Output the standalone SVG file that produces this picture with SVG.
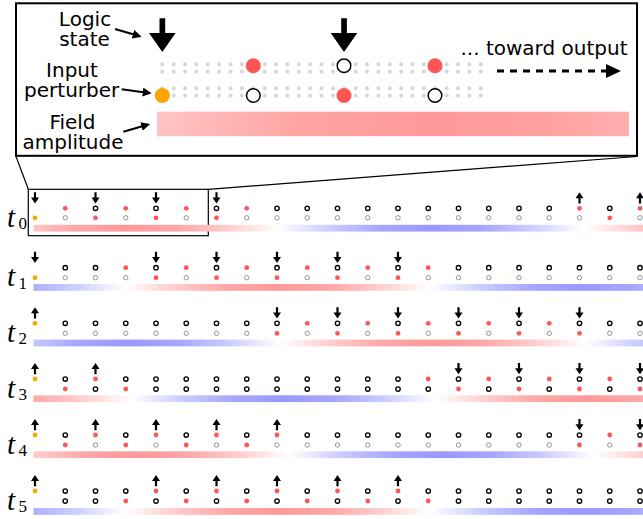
<svg xmlns="http://www.w3.org/2000/svg" width="643" height="519" viewBox="0 0 643 519">
<defs>
<style>
.lbl{font-family:"DejaVu Sans",sans-serif;font-size:20px;fill:#000;text-anchor:middle}
.tl{font-family:"Liberation Serif",serif;font-style:italic;font-size:29px;fill:#000}
.sub{font-style:normal;font-size:17px}
.r{fill:#f55;r:2.4px}
.k{fill:#fff;stroke:#000;stroke-width:1.35;r:2.2px}
.g{fill:#fff;stroke:#888;stroke-width:0.9;r:2.2px}
.o{fill:#ffa500;r:2.4px}
.R{fill:#f55;r:7.5px}
.K{fill:#fff;stroke:#000;stroke-width:1.5;r:6.8px}
.O{fill:#ffa500;r:7.6px}
.ln{stroke:#000;stroke-width:1.2;fill:none}
.la{stroke:#000;stroke-width:2;fill:none;marker-end:url(#ah)}
</style>
<marker id="ah" viewBox="0 0 10 10" refX="7" refY="5" markerWidth="4.5" markerHeight="4.5" orient="auto" markerUnits="strokeWidth">
<path d="M0,0L10,5L0,10z"/>
</marker>
<path id="dn" d="M-1.1,0H1.1V5.2H4L0,11.2L-4,5.2H-1.1Z"/>
<path id="up" d="M-1.1,11.2H1.1V6H4L0,0L-4,6H-1.1Z"/>
<!-- field amplitude: one period, red lobe then blue lobe -->
<linearGradient id="field" gradientUnits="userSpaceOnUse" x1="0" y1="0" x2="610" y2="0" spreadMethod="repeat">
<stop offset="0" stop-color="#fff"/>
<stop offset="0.0833" stop-color="#fcc"/>
<stop offset="0.1667" stop-color="#ffa7a7"/>
<stop offset="0.25" stop-color="#f99"/>
<stop offset="0.3333" stop-color="#ffa7a7"/>
<stop offset="0.4167" stop-color="#fcc"/>
<stop offset="0.5" stop-color="#fff"/>
<stop offset="0.5833" stop-color="#ccf"/>
<stop offset="0.6667" stop-color="#a7a7ff"/>
<stop offset="0.75" stop-color="#99f"/>
<stop offset="0.8333" stop-color="#a7a7ff"/>
<stop offset="0.9167" stop-color="#ccf"/>
<stop offset="1" stop-color="#fff"/>
</linearGradient>
<linearGradient id="f0" href="#field" gradientTransform="translate(-27,0)"/>
<linearGradient id="f1" href="#field" gradientTransform="translate(125,0)"/>
<linearGradient id="f2" href="#field" gradientTransform="translate(280,0)"/>
<linearGradient id="f3" href="#field" gradientTransform="translate(436,0)"/>
<linearGradient id="f4" href="#field" gradientTransform="translate(594,0)"/>
<linearGradient id="fz" x1="0" y1="0" x2="1" y2="0">
<stop offset="0" stop-color="#ffc4c4"/>
<stop offset="0.3" stop-color="#ffa4a4"/>
<stop offset="0.586" stop-color="#f99"/>
<stop offset="0.8" stop-color="#ff9f9f"/>
<stop offset="1" stop-color="#ffafaf"/>
</linearGradient>
<pattern id="lattice" patternUnits="userSpaceOnUse" x="156.6" y="60.3" width="11.375" height="24">
<circle cx="5.69" cy="4" r="2" fill="#d3d3d3"/>
<circle cx="5.69" cy="11.2" r="2" fill="#d3d3d3"/>
</pattern>
</defs>
<rect width="643" height="519" fill="#fff"/>

<!-- magnified view -->
<g id="inset">
<rect x="16" y="3.3" width="621" height="152.5" fill="#fff" stroke="#000" stroke-width="2"/>
<rect x="156.6" y="60.3" width="329.9" height="40" fill="url(#lattice)"/>
<rect x="157" y="111.7" width="472" height="24.5" fill="url(#fz)"/>
<path d="M159.5,18.3H165.2V33H175.6L162.35,52L149,33H159.5Z"/>
<path d="M341.2,18.3H346.9V33H357.3L344,52L330.7,33H341.2Z"/>
<circle class="O" cx="162.3" cy="95.5"/>
<circle class="R" cx="253.3" cy="65.7"/>
<circle class="K" cx="253.3" cy="95.5"/>
<circle class="K" cx="344" cy="65.7"/>
<circle class="R" cx="344" cy="95.5"/>
<circle class="R" cx="435" cy="65.7"/>
<circle class="K" cx="435" cy="95.5"/>
<text class="lbl" x="85" y="25.5">Logic</text>
<text class="lbl" x="84.5" y="45.5">state</text>
<text class="lbl" x="72" y="77">Input</text>
<text class="lbl" x="71.7" y="97">perturber</text>
<text class="lbl" x="72.5" y="129">Field</text>
<text class="lbl" x="73" y="149">amplitude</text>
<text class="lbl" x="544" y="55">... toward output</text>
</g>

<g id="connectors">
<line class="la" x1="115" y1="29" x2="139" y2="36"/>
<line class="la" x1="121.7" y1="89.3" x2="149" y2="93"/>
<line class="la" x1="123.3" y1="131.7" x2="147.5" y2="124.8"/>
<line x1="497" y1="71" x2="606" y2="71" stroke="#000" stroke-width="3.2" stroke-dasharray="7 6"/>
<path d="M606,64L621,71L606,78Z"/>
<rect class="ln" x="28.3" y="189.3" width="180" height="46.4"/>
<line class="ln" x1="16" y1="156.5" x2="28.3" y2="189.3"/>
<line class="ln" x1="637" y1="156.5" x2="208.3" y2="189.3"/>
</g>

<g id="row-t0" transform="translate(0,208.3)">
<text class="tl" x="7" y="18.5">t<tspan class="sub" x="18.5" dy="2.5">0</tspan></text>
<rect x="33.5" y="16.5" width="609.5" height="6.8" fill="url(#f0)"/>
<use href="#dn" x="35" y="-16"/><use href="#dn" x="95.5" y="-16"/><use href="#dn" x="156" y="-16"/><use href="#dn" x="216.5" y="-16"/>
<use href="#up" x="579.5" y="-16"/><use href="#up" x="640" y="-16"/>
<circle class="o" cx="35" cy="9.5"/>
<circle class="r" cx="65.25" cy="0"/><circle class="g" cx="65.25" cy="9.5"/>
<circle class="k" cx="95.5" cy="0"/><circle class="r" cx="95.5" cy="9.5"/>
<circle class="r" cx="125.75" cy="0"/><circle class="g" cx="125.75" cy="9.5"/>
<circle class="k" cx="156" cy="0"/><circle class="r" cx="156" cy="9.5"/>
<circle class="r" cx="186.25" cy="0"/><circle class="g" cx="186.25" cy="9.5"/>
<circle class="k" cx="216.5" cy="0"/><circle class="r" cx="216.5" cy="9.5"/>
<circle class="r" cx="246.75" cy="0"/><circle class="g" cx="246.75" cy="9.5"/>
<circle class="k" cx="277" cy="0"/><circle class="g" cx="277" cy="9.5"/>
<circle class="k" cx="307.25" cy="0"/><circle class="g" cx="307.25" cy="9.5"/>
<circle class="k" cx="337.5" cy="0"/><circle class="g" cx="337.5" cy="9.5"/>
<circle class="k" cx="367.75" cy="0"/><circle class="g" cx="367.75" cy="9.5"/>
<circle class="k" cx="398" cy="0"/><circle class="g" cx="398" cy="9.5"/>
<circle class="k" cx="428.25" cy="0"/><circle class="g" cx="428.25" cy="9.5"/>
<circle class="k" cx="458.5" cy="0"/><circle class="g" cx="458.5" cy="9.5"/>
<circle class="k" cx="488.75" cy="0"/><circle class="g" cx="488.75" cy="9.5"/>
<circle class="k" cx="519" cy="0"/><circle class="g" cx="519" cy="9.5"/>
<circle class="k" cx="549.25" cy="0"/><circle class="g" cx="549.25" cy="9.5"/>
<circle class="r" cx="579.5" cy="0"/><circle class="g" cx="579.5" cy="9.5"/>
<circle class="k" cx="609.75" cy="0"/><circle class="r" cx="609.75" cy="9.5"/>
<circle class="r" cx="640" cy="0"/><circle class="g" cx="640" cy="9.5"/>
</g>

<g id="row-t1" transform="translate(0,267.7)">
<text class="tl" x="7" y="18.5">t<tspan class="sub" x="18.5" dy="2.5">1</tspan></text>
<rect x="33.5" y="16.3" width="609.5" height="6.8" fill="url(#f1)"/>
<use href="#dn" x="35" y="-16"/><use href="#dn" x="156" y="-16"/><use href="#dn" x="216.5" y="-16"/><use href="#dn" x="277" y="-16"/><use href="#dn" x="337.5" y="-16"/><use href="#dn" x="398" y="-16"/>
<circle class="o" cx="35" cy="10"/>
<circle class="k" cx="65.25" cy="0"/><circle class="g" cx="65.25" cy="10"/>
<circle class="k" cx="95.5" cy="0"/><circle class="g" cx="95.5" cy="10"/>
<circle class="r" cx="125.75" cy="0"/><circle class="g" cx="125.75" cy="10"/>
<circle class="k" cx="156" cy="0"/><circle class="r" cx="156" cy="10"/>
<circle class="r" cx="186.25" cy="0"/><circle class="g" cx="186.25" cy="10"/>
<circle class="k" cx="216.5" cy="0"/><circle class="r" cx="216.5" cy="10"/>
<circle class="r" cx="246.75" cy="0"/><circle class="g" cx="246.75" cy="10"/>
<circle class="k" cx="277" cy="0"/><circle class="r" cx="277" cy="10"/>
<circle class="r" cx="307.25" cy="0"/><circle class="g" cx="307.25" cy="10"/>
<circle class="k" cx="337.5" cy="0"/><circle class="r" cx="337.5" cy="10"/>
<circle class="r" cx="367.75" cy="0"/><circle class="g" cx="367.75" cy="10"/>
<circle class="k" cx="398" cy="0"/><circle class="r" cx="398" cy="10"/>
<circle class="r" cx="428.25" cy="0"/><circle class="g" cx="428.25" cy="10"/>
<circle class="k" cx="458.5" cy="0"/><circle class="g" cx="458.5" cy="10"/>
<circle class="k" cx="488.75" cy="0"/><circle class="g" cx="488.75" cy="10"/>
<circle class="k" cx="519" cy="0"/><circle class="g" cx="519" cy="10"/>
<circle class="k" cx="549.25" cy="0"/><circle class="g" cx="549.25" cy="10"/>
<circle class="k" cx="579.5" cy="0"/><circle class="g" cx="579.5" cy="10"/>
<circle class="k" cx="609.75" cy="0"/><circle class="g" cx="609.75" cy="10"/>
<circle class="k" cx="640" cy="0"/><circle class="g" cx="640" cy="10"/>
</g>

<g id="row-t2" transform="translate(0,323.3)">
<text class="tl" x="7" y="18.5">t<tspan class="sub" x="18.5" dy="2.5">2</tspan></text>
<rect x="33.5" y="16.3" width="609.5" height="6.8" fill="url(#f2)"/>
<use href="#up" x="35" y="-16"/>
<use href="#dn" x="277" y="-16"/><use href="#dn" x="337.5" y="-16"/><use href="#dn" x="398" y="-16"/><use href="#dn" x="458.5" y="-16"/><use href="#dn" x="519" y="-16"/><use href="#dn" x="579.5" y="-16"/>
<circle class="o" cx="35" cy="0"/>
<circle class="k" cx="65.25" cy="0"/><circle class="g" cx="65.25" cy="10"/>
<circle class="k" cx="95.5" cy="0"/><circle class="g" cx="95.5" cy="10"/>
<circle class="k" cx="125.75" cy="0"/><circle class="g" cx="125.75" cy="10"/>
<circle class="k" cx="156" cy="0"/><circle class="g" cx="156" cy="10"/>
<circle class="k" cx="186.25" cy="0"/><circle class="g" cx="186.25" cy="10"/>
<circle class="k" cx="216.5" cy="0"/><circle class="g" cx="216.5" cy="10"/>
<circle class="k" cx="246.75" cy="0"/><circle class="g" cx="246.75" cy="10"/>
<circle class="k" cx="277" cy="0"/><circle class="r" cx="277" cy="10"/>
<circle class="r" cx="307.25" cy="0"/><circle class="g" cx="307.25" cy="10"/>
<circle class="k" cx="337.5" cy="0"/><circle class="r" cx="337.5" cy="10"/>
<circle class="r" cx="367.75" cy="0"/><circle class="g" cx="367.75" cy="10"/>
<circle class="k" cx="398" cy="0"/><circle class="r" cx="398" cy="10"/>
<circle class="r" cx="428.25" cy="0"/><circle class="g" cx="428.25" cy="10"/>
<circle class="k" cx="458.5" cy="0"/><circle class="r" cx="458.5" cy="10"/>
<circle class="r" cx="488.75" cy="0"/><circle class="g" cx="488.75" cy="10"/>
<circle class="k" cx="519" cy="0"/><circle class="r" cx="519" cy="10"/>
<circle class="r" cx="549.25" cy="0"/><circle class="g" cx="549.25" cy="10"/>
<circle class="k" cx="579.5" cy="0"/><circle class="r" cx="579.5" cy="10"/>
<circle class="k" cx="609.75" cy="0"/><circle class="g" cx="609.75" cy="10"/>
<circle class="k" cx="640" cy="0"/><circle class="g" cx="640" cy="10"/>
</g>

<g id="row-t3" transform="translate(0,379)">
<text class="tl" x="7" y="18.5">t<tspan class="sub" x="18.5" dy="2.5">3</tspan></text>
<rect x="33.5" y="16.3" width="609.5" height="6.8" fill="url(#f3)"/>
<use href="#up" x="35" y="-16"/><use href="#up" x="95.5" y="-16"/>
<use href="#dn" x="458.5" y="-16"/><use href="#dn" x="519" y="-16"/><use href="#dn" x="579.5" y="-16"/><use href="#dn" x="640" y="-16"/>
<circle class="o" cx="35" cy="0"/>
<circle class="k" cx="65.25" cy="0"/><circle class="r" cx="65.25" cy="10"/>
<circle class="r" cx="95.5" cy="0"/><circle class="k" cx="95.5" cy="10"/>
<circle class="k" cx="125.75" cy="0"/><circle class="r" cx="125.75" cy="10"/>
<circle class="k" cx="156" cy="0"/><circle class="k" cx="156" cy="10"/>
<circle class="k" cx="186.25" cy="0"/><circle class="k" cx="186.25" cy="10"/>
<circle class="k" cx="216.5" cy="0"/><circle class="k" cx="216.5" cy="10"/>
<circle class="k" cx="246.75" cy="0"/><circle class="k" cx="246.75" cy="10"/>
<circle class="k" cx="277" cy="0"/><circle class="k" cx="277" cy="10"/>
<circle class="k" cx="307.25" cy="0"/><circle class="k" cx="307.25" cy="10"/>
<circle class="k" cx="337.5" cy="0"/><circle class="k" cx="337.5" cy="10"/>
<circle class="k" cx="367.75" cy="0"/><circle class="k" cx="367.75" cy="10"/>
<circle class="k" cx="398" cy="0"/><circle class="k" cx="398" cy="10"/>
<circle class="r" cx="428.25" cy="0"/><circle class="k" cx="428.25" cy="10"/>
<circle class="k" cx="458.5" cy="0"/><circle class="r" cx="458.5" cy="10"/>
<circle class="r" cx="488.75" cy="0"/><circle class="k" cx="488.75" cy="10"/>
<circle class="k" cx="519" cy="0"/><circle class="r" cx="519" cy="10"/>
<circle class="r" cx="549.25" cy="0"/><circle class="k" cx="549.25" cy="10"/>
<circle class="k" cx="579.5" cy="0"/><circle class="r" cx="579.5" cy="10"/>
<circle class="r" cx="609.75" cy="0"/><circle class="k" cx="609.75" cy="10"/>
<circle class="k" cx="640" cy="0"/><circle class="r" cx="640" cy="10"/>
</g>

<g id="row-t4" transform="translate(0,435)">
<text class="tl" x="7" y="18.5">t<tspan class="sub" x="18.5" dy="2.5">4</tspan></text>
<rect x="33.5" y="16.3" width="609.5" height="6.8" fill="url(#f4)"/>
<use href="#up" x="35" y="-16"/><use href="#up" x="95.5" y="-16"/><use href="#up" x="156" y="-16"/><use href="#up" x="216.5" y="-16"/><use href="#up" x="277" y="-16"/>
<use href="#dn" x="579.5" y="-16"/><use href="#dn" x="640" y="-16"/>
<circle class="o" cx="35" cy="0"/>
<circle class="k" cx="65.25" cy="0"/><circle class="r" cx="65.25" cy="10"/>
<circle class="r" cx="95.5" cy="0"/><circle class="g" cx="95.5" cy="10"/>
<circle class="k" cx="125.75" cy="0"/><circle class="r" cx="125.75" cy="10"/>
<circle class="r" cx="156" cy="0"/><circle class="g" cx="156" cy="10"/>
<circle class="k" cx="186.25" cy="0"/><circle class="r" cx="186.25" cy="10"/>
<circle class="r" cx="216.5" cy="0"/><circle class="g" cx="216.5" cy="10"/>
<circle class="k" cx="246.75" cy="0"/><circle class="r" cx="246.75" cy="10"/>
<circle class="r" cx="277" cy="0"/><circle class="g" cx="277" cy="10"/>
<circle class="k" cx="307.25" cy="0"/><circle class="g" cx="307.25" cy="10"/>
<circle class="k" cx="337.5" cy="0"/><circle class="g" cx="337.5" cy="10"/>
<circle class="k" cx="367.75" cy="0"/><circle class="g" cx="367.75" cy="10"/>
<circle class="k" cx="398" cy="0"/><circle class="g" cx="398" cy="10"/>
<circle class="k" cx="428.25" cy="0"/><circle class="g" cx="428.25" cy="10"/>
<circle class="k" cx="458.5" cy="0"/><circle class="g" cx="458.5" cy="10"/>
<circle class="k" cx="488.75" cy="0"/><circle class="g" cx="488.75" cy="10"/>
<circle class="k" cx="519" cy="0"/><circle class="g" cx="519" cy="10"/>
<circle class="k" cx="549.25" cy="0"/><circle class="g" cx="549.25" cy="10"/>
<circle class="k" cx="579.5" cy="0"/><circle class="r" cx="579.5" cy="10"/>
<circle class="r" cx="609.75" cy="0"/><circle class="g" cx="609.75" cy="10"/>
<circle class="k" cx="640" cy="0"/><circle class="r" cx="640" cy="10"/>
</g>

<g id="row-t5" transform="translate(0,491)">
<text class="tl" x="7" y="18.5">t<tspan class="sub" x="18.5" dy="2.5">5</tspan></text>
<rect x="33.5" y="17" width="609.5" height="6.8" fill="url(#f1)"/>
<use href="#up" x="35" y="-16"/><use href="#up" x="156" y="-16"/><use href="#up" x="216.5" y="-16"/><use href="#up" x="277" y="-16"/><use href="#up" x="337.5" y="-16"/><use href="#up" x="398" y="-16"/>
<circle class="o" cx="35" cy="0"/>
<circle class="k" cx="65.25" cy="0"/><circle class="k" cx="65.25" cy="10"/>
<circle class="k" cx="95.5" cy="0"/><circle class="k" cx="95.5" cy="10"/>
<circle class="k" cx="125.75" cy="0"/><circle class="r" cx="125.75" cy="10"/>
<circle class="r" cx="156" cy="0"/><circle class="k" cx="156" cy="10"/>
<circle class="k" cx="186.25" cy="0"/><circle class="r" cx="186.25" cy="10"/>
<circle class="r" cx="216.5" cy="0"/><circle class="k" cx="216.5" cy="10"/>
<circle class="k" cx="246.75" cy="0"/><circle class="r" cx="246.75" cy="10"/>
<circle class="r" cx="277" cy="0"/><circle class="k" cx="277" cy="10"/>
<circle class="k" cx="307.25" cy="0"/><circle class="r" cx="307.25" cy="10"/>
<circle class="r" cx="337.5" cy="0"/><circle class="k" cx="337.5" cy="10"/>
<circle class="k" cx="367.75" cy="0"/><circle class="r" cx="367.75" cy="10"/>
<circle class="r" cx="398" cy="0"/><circle class="k" cx="398" cy="10"/>
<circle class="k" cx="428.25" cy="0"/><circle class="r" cx="428.25" cy="10"/>
<circle class="k" cx="458.5" cy="0"/><circle class="k" cx="458.5" cy="10"/>
<circle class="k" cx="488.75" cy="0"/><circle class="k" cx="488.75" cy="10"/>
<circle class="k" cx="519" cy="0"/><circle class="k" cx="519" cy="10"/>
<circle class="k" cx="549.25" cy="0"/><circle class="k" cx="549.25" cy="10"/>
<circle class="k" cx="579.5" cy="0"/><circle class="k" cx="579.5" cy="10"/>
<circle class="k" cx="609.75" cy="0"/><circle class="k" cx="609.75" cy="10"/>
<circle class="k" cx="640" cy="0"/><circle class="k" cx="640" cy="10"/>
</g>
</svg>
